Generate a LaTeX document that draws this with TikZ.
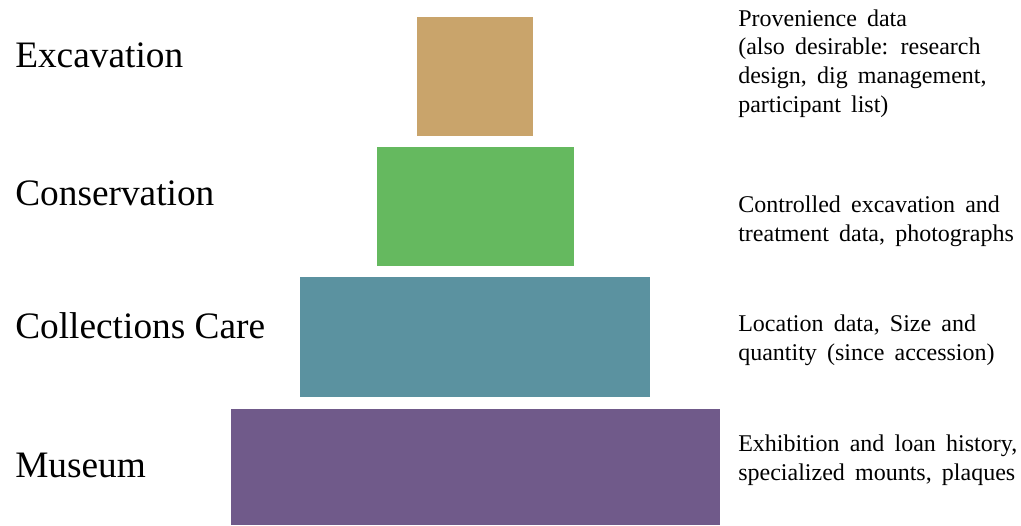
\documentclass[tikz,border=0pt]{standalone}
\usepackage{fontspec}
\setmainfont{Liberation Serif}
\newfontfamily\notefont[WordSpace=1.7]{Liberation Serif}
\usetikzlibrary{positioning}
\definecolor{tanbox}{RGB}{201,164,107}
\definecolor{greenbox}{RGB}{101,185,95}
\definecolor{tealbox}{RGB}{91,146,160}
\definecolor{purplebox}{RGB}{112,90,138}
\tikzset{
    every node/.style={inner sep=0pt},
    tier/.style={rectangle, minimum height=89.25pt},
    stage/.style={anchor=base west, font=\fontsize{28}{33}\selectfont},
    note/.style={anchor=base west, align=left, font=\notefont\fontsize{18}{21.5}\selectfont},
}

\begin{document}
\begin{tikzpicture}[x=0.75pt, y=-0.75pt]
\useasboundingbox (0,0) rectangle (1021,525);
% the tiers, narrow at the top and wide at the bottom
\node[tier, fill=tanbox, minimum width=87pt] (excbox) at (475,76.5) {};
\node[tier, fill=greenbox, minimum width=147.75pt] (conbox) at (475.5,206.5) {};
\node[tier, fill=tealbox, minimum width=262.5pt, minimum height=90pt] (colbox) at (475,337) {};
\node[tier, fill=purplebox, minimum width=366.75pt, minimum height=87pt] (musbox) at (475.5,467) {};
% stage names on the left
\node[stage] (exc) at (15,67) {Excavation};
\node[stage] (con) at (15,205) {Conservation};
\node[stage] (col) at (15,338) {Collections Care};
\node[stage] (mus) at (15,477) {Museum};
% data kept at each stage, on the right (anchored at the last line)
\node[note] (excdata) at (738,112) {Provenience data\\(also desirable: research\\design, dig management,\\participant list)};
\node[note] (condata) at (738,241) {Controlled excavation and\\treatment data, photographs};
\node[note] (coldata) at (738,360) {Location data, Size and\\quantity (since accession)};
\node[note] (musdata) at (738,480) {Exhibition and loan history,\\specialized mounts, plaques};
\end{tikzpicture}
\end{document}
